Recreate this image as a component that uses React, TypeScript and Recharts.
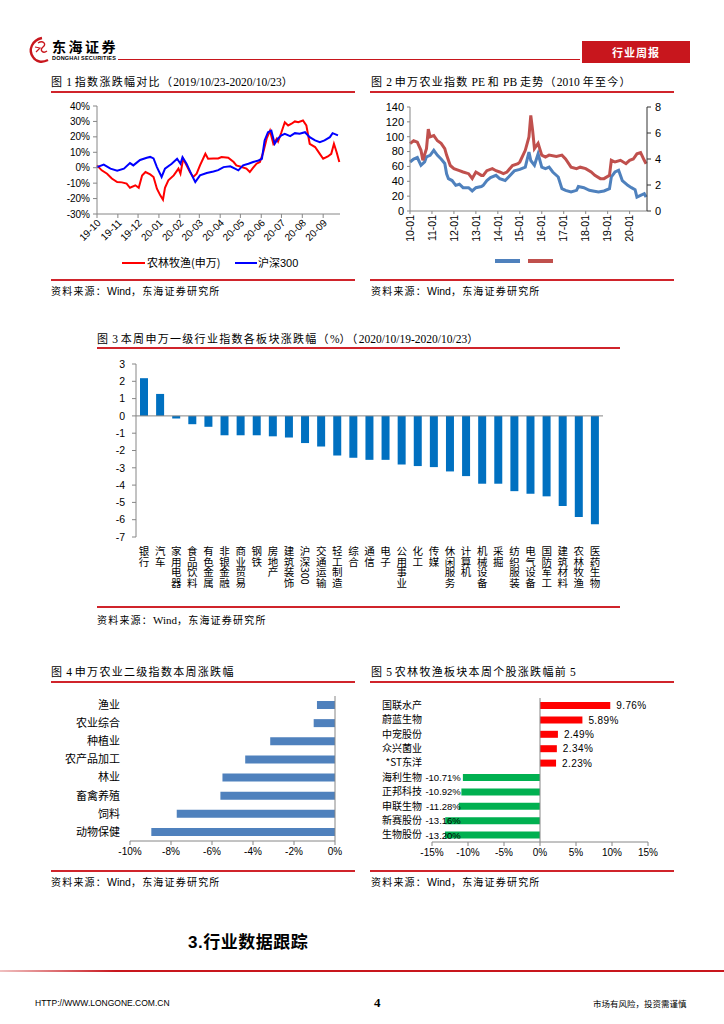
import React from 'react';
import { LineChart, Line, XAxis, YAxis, BarChart, Bar, Cell, ReferenceLine, LabelList } from 'recharts';

// ---------------- DATA ----------------
// Figure 1: cumulative change (%) since 2019-10-23, x = days since start
const fig1MonthLabels = ['19-10', '19-11', '19-12', '20-01', '20-02', '20-03', '20-04', '20-05', '20-06', '20-07', '20-08', '20-09'];
const fig1MonthDays = [0, 31, 61, 92, 123, 152, 183, 213, 244, 274, 305, 336];
const fig1AgriDays = [0, 7, 15, 22, 30, 37, 44, 49, 57, 62, 67, 72, 79, 84, 89, 94, 98, 101, 106, 114, 121, 124, 128, 133, 138, 143, 148, 153, 161, 165, 173, 180, 185, 195, 203, 207, 215, 222, 227, 232, 237, 242, 247, 252, 257, 262, 267, 269, 274, 279, 284, 289, 294, 299, 306, 311, 316, 324, 331, 336, 343, 348, 352, 356, 360];
const fig1AgriValues = [1.5, -1.7, -3.9, -7, -9.3, -9.5, -10.3, -13, -11.4, -13, -5, -2.8, -4.3, -6, -13.6, -17.9, -20.7, -13, -8.2, -5, -0.6, -3.9, 5.8, 1.5, -2.8, -6, -3.9, 1.5, 9, 5.8, 6, 6, 6.9, 6.5, 3.7, 1.5, 0.5, -0.6, -2.8, 0, 2.6, 3.7, 10, 18.8, 24, 15.5, 18.8, 17, 23, 29.5, 27.4, 28.5, 30, 29.5, 30.6, 27.4, 15.5, 13.4, 9, 5.8, 7.3, 9, 15.5, 10, 3.7];
const fig1HsDays = [0, 10, 20, 30, 40, 49, 54, 64, 74, 79, 84, 89, 96, 101, 111, 119, 124, 127, 133, 141, 146, 153, 163, 173, 180, 188, 198, 205, 210, 217, 225, 232, 240, 245, 249, 254, 259, 264, 269, 274, 279, 287, 294, 301, 309, 316, 324, 331, 338, 346, 350, 358];
const fig1HsValues = [0.4, 2, -0.6, -2, -0.6, 3, 1.5, 5, 6.5, 7, 6, 0.4, -6, -0.6, 2.6, 5.8, 2.6, 6.9, 2.6, -5, -9.3, -5, -3.4, -2.4, -1.6, 0.4, 0.9, -0.6, -1.7, 1.5, 2.6, 3.7, 4.7, 5.8, 17.7, 23, 24, 15.5, 19, 21, 22, 20.5, 22.4, 22, 23, 19.8, 17.7, 16.6, 17.7, 19.8, 22.4, 21];
const fig1YTicks = [-30, -20, -10, 0, 10, 20, 30, 40];

// Figure 2: PE (left axis) and PB (right axis), x = months since 2010-01
const fig2YearLabels = ['10-01', '11-01', '12-01', '13-01', '14-01', '15-01', '16-01', '17-01', '18-01', '19-01', '20-01'];
const fig2YearMonths = [0, 12, 24, 36, 48, 60, 72, 84, 96, 108, 120];
const fig2PeMonths = [0, 2, 4, 6, 8, 9, 11, 13, 15, 17, 19, 20, 21, 23, 25, 27, 29, 32, 34, 36, 39, 40, 42, 44, 47, 49, 52, 54, 57, 60, 63, 65, 66, 68, 70, 72, 74, 76, 78, 81, 83, 85, 88, 91, 92, 95, 98, 100, 103, 106, 109, 110, 112, 114, 116, 119, 121, 123, 124, 126, 128, 129];
const fig2PeValues = [66, 70, 72, 61.5, 66, 73, 75, 81.7, 75, 70, 64, 50, 43.5, 41, 34.5, 36, 31.4, 31.4, 27, 31.4, 33, 34.5, 41, 45, 48, 43.5, 41, 46, 54, 56, 59, 79.4, 68, 61.5, 77, 59, 57, 59, 52.5, 45.8, 30, 27.8, 25.6, 27.8, 33, 31.4, 27.8, 27, 25.6, 27, 30, 45.8, 52.5, 54.7, 41, 34.5, 31.4, 28.7, 18.8, 21, 23.3, 18.8];
const fig2PbMonths = [0, 2, 4, 6, 7, 9, 10, 11, 13, 15, 17, 19, 20, 22, 24, 27, 29, 32, 34, 36, 39, 40, 42, 45, 47, 49, 51, 53, 56, 59, 60, 63, 65, 66, 67, 68, 70, 72, 74, 76, 80, 83, 85, 88, 91, 93, 96, 99, 101, 104, 106, 109, 110, 112, 115, 118, 120, 122, 124, 126, 128, 129];
const fig2PbValues = [5.18, 5.4, 5.3, 4.67, 3.9, 4.8, 6.3, 5.7, 5.8, 5.4, 5.2, 4.8, 4.3, 3.5, 3.26, 3.1, 3.0, 2.87, 2.5, 3.0, 2.74, 2.74, 3.1, 3.26, 3.1, 3.0, 2.87, 3.0, 3.5, 3.64, 3.77, 4.67, 5.7, 7.36, 6.2, 4.8, 5.2, 4.3, 4.15, 4.3, 4.2, 4.3, 4.0, 3.37, 3.26, 3.37, 3.26, 3.0, 2.74, 2.49, 2.49, 2.74, 3.9, 3.77, 3.9, 3.64, 3.9, 4.0, 4.4, 4.5, 3.9, 3.64];
const fig2LeftTicks = [0, 20, 40, 60, 80, 100, 120, 140];
const fig2RightTicks = [0, 2, 4, 6, 8];

// Figure 3: weekly change (%) of SW level-1 industries
const fig3Categories = ['银行', '汽车', '家用电器', '食品饮料', '有色金属', '非银金融', '商业贸易', '钢铁', '房地产', '建筑装饰', '沪深300', '交通运输', '轻工制造', '综合', '通信', '电子', '公用事业', '化工', '传媒', '休闲服务', '计算机', '机械设备', '采掘', '纺织服装', '电气设备', '国防军工', '建筑材料', '农林牧渔', '医药生物'];
const fig3Values = [2.18, 1.27, -0.15, -0.48, -0.63, -1.12, -1.12, -1.12, -1.18, -1.25, -1.57, -1.77, -2.29, -2.42, -2.54, -2.54, -2.81, -2.9, -2.96, -3.21, -3.48, -3.92, -3.92, -4.35, -4.5, -4.65, -5.21, -5.85, -6.27];
const fig3YTicks = [-7, -6, -5, -4, -3, -2, -1, 0, 1, 2, 3];

// Figure 4: SW agriculture level-2 indices weekly change (%)
const fig4Categories = ['渔业', '农业综合', '种植业', '农产品加工', '林业', '畜禽养殖', '饲料', '动物保健'];
const fig4Values = [-0.88, -1.04, -3.16, -4.38, -5.49, -5.59, -7.72, -8.96];
const fig4XTicks = [-10, -8, -6, -4, -2, 0];

// Figure 5: top 5 gainers / losers (%)
const fig5Stocks = ['国联水产', '蔚蓝生物', '中宠股份', '众兴菌业', '*ST东洋', '海利生物', '正邦科技', '申联生物', '新赛股份', '生物股份'];
const fig5Values = [9.76, 5.89, 2.49, 2.34, 2.23, -10.71, -10.92, -11.28, -13.16, -13.2];
const fig5XTicks = [-15, -10, -5, 0, 5, 10, 15];

// ---------------- BUILD TABLES ----------------
function merge(xa: number[], ya: number[], ka: string, xb: number[], yb: number[], kb: string) {
  const m = new Map<number, any>();
  xa.forEach((x, i) => { const r = m.get(x) || { x }; r[ka] = ya[i]; m.set(x, r); });
  xb.forEach((x, i) => { const r = m.get(x) || { x }; r[kb] = yb[i]; m.set(x, r); });
  return Array.from(m.values()).sort((a, b) => a.x - b.x);
}
const fig1Data = merge(fig1AgriDays, fig1AgriValues, 'agri', fig1HsDays, fig1HsValues, 'hs');
const fig2Data = merge(fig2PeMonths, fig2PeValues, 'pe', fig2PbMonths, fig2PbValues, 'pb');
const fig3Data = fig3Categories.map((name, i) => ({ name, v: fig3Values[i] }));
const fig4Data = fig4Categories.map((name, i) => ({ name, v: fig4Values[i] }));
const fig5Data = fig5Stocks.map((name, i) => ({ name, v: fig5Values[i] }));

// ---------------- STYLES ----------------
const CJK = '"Noto Sans CJK SC", sans-serif';
const SANS = '"Liberation Sans", Arial, "Noto Sans CJK SC", sans-serif';
const SERIF = '"Liberation Serif", "Times New Roman", serif';
const RULE = '#D0242B';
const AXIS = '#868686';

const CJK_RE = /[\u3000-\u303f\u4e00-\u9fff\uff00-\uffef]/;
function Mixed({ text, cjkSpacing = 1.3, latinFamily = SERIF, latinSize }: any) {
  const parts = text.match(/[\u3000-\u303f\u4e00-\u9fff\uff00-\uffef]+|[^\u3000-\u303f\u4e00-\u9fff\uff00-\uffef]+/g) || [];
  return (
    <>
      {parts.map((p: string, i: number) =>
        CJK_RE.test(p) ? (
          <span key={i} style={{ fontFamily: CJK, letterSpacing: cjkSpacing }}>{p}</span>
        ) : (
          <span key={i} style={{ fontFamily: latinFamily, fontSize: latinSize }}>{p}</span>
        )
      )}
    </>
  );
}

const Rule = ({ left, top, width, h = 2 }: any) => (
  <div style={{ position: 'absolute', left, top, width, height: h, background: RULE }} />
);

const Caption = ({ left, top, text }: any) => (
  <div style={{ position: 'absolute', left, top, height: 15, lineHeight: '15px', fontSize: 11, whiteSpace: 'nowrap', color: '#000' }}>
    <Mixed text={text} cjkSpacing={1.3} latinFamily={SERIF} latinSize={11.5} />
  </div>
);

const Source = ({ left, top, serif }: any) => (
  <div style={{ position: 'absolute', left, top, height: 15, lineHeight: '15px', fontSize: 10, whiteSpace: 'nowrap', color: '#000' }}>
    <Mixed text="资料来源：Wind，东海证券研究所" cjkSpacing={1.2} latinFamily={serif ? SERIF : SANS} latinSize={serif ? 11 : 10.5} />
  </div>
);

// ---------------- TICKS ----------------
function Fig1XTick(props: any) {
  const { x, y, payload } = props;
  const i = fig1MonthDays.indexOf(payload.value);
  const ax = x + 2;
  const ay = y + 1;
  return (
    <text x={ax} y={ay} dy="0.35em" transform={`rotate(-45 ${ax} ${ay})`} textAnchor="end" fontSize={10} fontFamily={SANS} fill="#000">
      {i >= 0 ? fig1MonthLabels[i] : ''}
    </text>
  );
}

function Fig2XTick(props: any) {
  const { x, y, payload } = props;
  const i = fig2YearMonths.indexOf(payload.value);
  return (
    <text x={x} y={y} dy="0.35em" transform={`rotate(-90 ${x} ${y})`} textAnchor="end" fontSize={10.5} fontFamily={SANS} fill="#000">
      {i >= 0 ? fig2YearLabels[i] : ''}
    </text>
  );
}

function VerticalCatTick(props: any) {
  const { x, y, payload } = props;
  return (
    <text x={x} y={y} textAnchor="start" fontSize={10.5} fontFamily={CJK} fill="#000" style={{ writingMode: 'vertical-rl' } as any}>
      {payload.value}
    </text>
  );
}

function Fig5Label(props: any) {
  const { x, y, width, height, value } = props;
  const left = Math.min(x, x + width);
  const right = Math.max(x, x + width);
  const cy = y + height / 2;
  const txt = `${Number(value).toFixed(2)}%`;
  if (value >= 0) {
    return (
      <text x={right + 6} y={cy} dy="0.36em" fontSize={10} fontFamily={SANS} fill="#000" letterSpacing={0.4}>{txt}</text>
    );
  }
  const ppu = (right - left) / Math.abs(value);
  const endX = Math.max(left - 3, right - 11.0 * ppu);
  return (
    <text x={endX} y={cy} dy="0.36em" textAnchor="end" fontSize={9.5} fontFamily={SANS} fill="#000">{txt}</text>
  );
}

const tickStyle = { fontSize: 10, fontFamily: SANS, fill: '#000' };

// ---------------- APP ----------------
export default function App() {
  return (
    <div style={{ position: 'absolute', left: 0, top: 0, width: 724, height: 1024, background: '#fff', overflow: 'hidden', color: '#000' }}>
      {/* Header */}
      <svg style={{ position: 'absolute', left: 27, top: 35 }} width={24} height={30}>
        <path d="M15 3 C 5 5, 1 15, 6 22 C 9 27, 15 28, 21 25" stroke="#C8161D" strokeWidth={2.4} fill="none" />
        <path d="M11 8 C 16 5, 20 9, 16 12 C 12 15, 16 19, 20 16" stroke="#C8161D" strokeWidth={1.4} fill="none" />
        <path d="M8 12 L 13 13 L 9 17" stroke="#C8161D" strokeWidth={1.2} fill="none" />
      </svg>
      <div style={{ position: 'absolute', left: 52, top: 38, fontSize: 14, lineHeight: '17px', fontWeight: 'bold', letterSpacing: 2.5, fontFamily: CJK, whiteSpace: 'nowrap' }}>东海证券</div>
      <div style={{ position: 'absolute', left: 52, top: 55, fontSize: 5.5, lineHeight: '7px', fontWeight: 'bold', letterSpacing: 0.2, fontFamily: SANS, whiteSpace: 'nowrap' }}>DONGHAI SECURITIES</div>
      <div style={{ position: 'absolute', left: 118, top: 59, width: 462, height: 1, background: '#C8161D' }} />
      <div style={{ position: 'absolute', left: 582, top: 41, width: 108, height: 22, background: '#C8161D', color: '#fff', fontSize: 11, fontWeight: 'bold', fontFamily: CJK, lineHeight: '22px', textAlign: 'center', letterSpacing: 1 }}>行业周报</div>

      {/* Figure 1 */}
      <Caption left={51} top={74} text="图 1 指数涨跌幅对比（2019/10/23-2020/10/23）" />
      <Rule left={51} top={91} width={304} />
      <div style={{ position: 'absolute', left: 40, top: 95 }}>
        <LineChart width={310} height={159} data={fig1Data} margin={{ top: 11, right: 10, left: 7, bottom: 0 }}>
          <XAxis dataKey="x" type="number" domain={[0, 361]} ticks={fig1MonthDays} interval={0} height={40}
            axisLine={{ stroke: AXIS }} tickLine={{ stroke: AXIS }} tickSize={4} tickMargin={2} tick={<Fig1XTick />} />
          <YAxis type="number" domain={[-30, 40]} ticks={fig1YTicks} interval={0} width={50} tickFormatter={(v: number) => `${v}%`}
            axisLine={{ stroke: AXIS }} tickLine={{ stroke: AXIS }} tickSize={4} tickMargin={3} tick={tickStyle} />
          <Line type="linear" dataKey="agri" stroke="#FF0000" strokeWidth={2} dot={false} connectNulls isAnimationActive={false} />
          <Line type="linear" dataKey="hs" stroke="#0000FF" strokeWidth={2} dot={false} connectNulls isAnimationActive={false} />
        </LineChart>
      </div>
      <div style={{ position: 'absolute', left: 122, top: 262, width: 23, height: 2, background: '#FF0000' }} />
      <div style={{ position: 'absolute', left: 147, top: 255, fontSize: 11, lineHeight: '15px', fontFamily: CJK, whiteSpace: 'nowrap' }}>农林牧渔(申万)</div>
      <div style={{ position: 'absolute', left: 235, top: 262, width: 22, height: 2, background: '#0000FF' }} />
      <div style={{ position: 'absolute', left: 258, top: 255, fontSize: 11, lineHeight: '15px', fontFamily: CJK, whiteSpace: 'nowrap' }}>沪深<span style={{ fontFamily: SANS }}>300</span></div>
      <Rule left={51} top={279} width={304} />
      <Source left={51} top={283} />

      {/* Figure 2 */}
      <Caption left={371} top={74} text="图 2 申万农业指数 PE 和 PB 走势（2010 年至今）" />
      <Rule left={370} top={91} width={304} />
      <div style={{ position: 'absolute', left: 360, top: 96 }}>
        <LineChart width={330} height={155} data={fig2Data} margin={{ top: 11, right: 8, left: 0, bottom: 0 }}>
          <XAxis dataKey="x" type="number" domain={[0, 129.5]} ticks={fig2YearMonths} interval={0} height={40}
            axisLine={{ stroke: AXIS }} tickLine={{ stroke: AXIS }} tickSize={3} tickMargin={1} tick={<Fig2XTick />} />
          <YAxis yAxisId="l" orientation="left" type="number" domain={[0, 140]} ticks={fig2LeftTicks} interval={0} width={50}
            axisLine={{ stroke: AXIS }} tickLine={{ stroke: AXIS }} tickSize={3} tickMargin={3} tick={{ ...tickStyle, fontSize: 11 }} />
          <YAxis yAxisId="r" orientation="right" type="number" domain={[0, 8]} ticks={fig2RightTicks} interval={0} width={35}
            axisLine={{ stroke: '#333' }} tickLine={{ stroke: '#333' }} tickSize={4} tickMargin={4} tick={{ ...tickStyle, fontSize: 11 }} />
          <Line yAxisId="l" type="linear" dataKey="pe" stroke="#4F81BD" strokeWidth={3} dot={false} connectNulls isAnimationActive={false} />
          <Line yAxisId="r" type="linear" dataKey="pb" stroke="#C0504D" strokeWidth={3} dot={false} connectNulls isAnimationActive={false} />
        </LineChart>
      </div>
      <div style={{ position: 'absolute', left: 495, top: 259, width: 25, height: 4, background: '#4F81BD' }} />
      <div style={{ position: 'absolute', left: 528, top: 259, width: 25, height: 4, background: '#C0504D' }} />
      <Rule left={370} top={279} width={304} />
      <Source left={371} top={283} />

      {/* Figure 3 */}
      <Caption left={97} top={331} text="图 3 本周申万一级行业指数各板块涨跌幅（%）（2020/10/19-2020/10/23）" />
      <Rule left={97} top={347} width={523} />
      <div style={{ position: 'absolute', left: 90, top: 355 }}>
        <BarChart width={530} height={252} data={fig3Data} margin={{ top: 9, right: 17, left: 0, bottom: 0 }}>
          <XAxis dataKey="name" type="category" interval={0} height={70} axisLine={false} tickLine={false}
            tickSize={0} tickMargin={9} tick={<VerticalCatTick />} />
          <YAxis type="number" domain={[-7, 3]} ticks={fig3YTicks} width={46} interval={0}
            axisLine={{ stroke: AXIS }} tickLine={{ stroke: AXIS }} tickSize={4} tickMargin={7} tick={{ ...tickStyle, fontSize: 10.5 }} />
          <ReferenceLine y={0} stroke={AXIS} />
          <Bar dataKey="v" fill="#0070C0" barSize={8} isAnimationActive={false} />
        </BarChart>
      </div>
      <Rule left={97} top={606} width={523} />
      <Source left={97} top={612} serif />

      {/* Figure 4 */}
      <Caption left={51} top={664} text="图 4 申万农业二级指数本周涨跌幅" />
      <Rule left={51} top={681} width={304} />
      <div style={{ position: 'absolute', left: 40, top: 686 }}>
        <BarChart width={310} height={180} data={fig4Data} layout="vertical" margin={{ top: 10, right: 15, left: 0, bottom: 0 }}>
          <XAxis type="number" domain={[-10, 0]} ticks={fig4XTicks} interval={0} height={25} tickFormatter={(v: number) => `${v}%`}
            axisLine={{ stroke: AXIS }} tickLine={{ stroke: AXIS }} tickSize={4} tickMargin={3} tick={tickStyle} />
          <YAxis type="category" dataKey="name" width={90} interval={0} axisLine={false} tickLine={false} tickSize={0} tickMargin={10}
            tick={{ fontSize: 11, fontFamily: CJK, fill: '#000' }} />
          <ReferenceLine x={0} stroke={AXIS} />
          <Bar dataKey="v" fill="#4F81BD" barSize={8} isAnimationActive={false} />
        </BarChart>
      </div>
      <Rule left={51} top={870} width={304} />
      <Source left={51} top={874} />

      {/* Figure 5 */}
      <Caption left={371} top={664} text="图 5 农林牧渔板块本周个股涨跌幅前 5" />
      <Rule left={370} top={681} width={304} />
      <div style={{ position: 'absolute', left: 360, top: 688 }}>
        <BarChart width={330} height={179} data={fig5Data} layout="vertical" margin={{ top: 10, right: 42, left: 0, bottom: 0 }}>
          <XAxis type="number" domain={[-15, 15]} ticks={fig5XTicks} interval={0} height={25} tickFormatter={(v: number) => `${v}%`}
            axisLine={{ stroke: AXIS }} tickLine={{ stroke: AXIS }} tickSize={4} tickMargin={3} tick={tickStyle} />
          <YAxis type="category" dataKey="name" width={72} interval={0} axisLine={false} tickLine={false} tickSize={0} tickMargin={10}
            tick={{ fontSize: 10, fontFamily: CJK, fill: '#000' }} />
          <ReferenceLine x={0} stroke={AXIS} />
          <Bar dataKey="v" barSize={7} isAnimationActive={false}>
            {fig5Data.map((d, i) => (
              <Cell key={i} fill={d.v >= 0 ? '#FF0000' : '#00B050'} />
            ))}
            <LabelList dataKey="v" content={<Fig5Label />} />
          </Bar>
        </BarChart>
      </div>
      <Rule left={370} top={870} width={304} />
      <Source left={371} top={874} />

      {/* Footer */}
      <div style={{ position: 'absolute', left: 188, top: 931, fontSize: 17, lineHeight: '20px', fontWeight: 'bold', fontFamily: CJK, whiteSpace: 'nowrap', letterSpacing: 0.5 }}>
        <span style={{ fontFamily: SANS }}>3.</span>行业数据跟踪
      </div>
      <div style={{ position: 'absolute', left: 0, top: 970, width: 724, height: 2, background: 'linear-gradient(to right, #f0c0c0 0%, #C8161D 16%, #C8161D 100%)' }} />
      <div style={{ position: 'absolute', left: 35, top: 997, fontSize: 8.5, lineHeight: '12px', fontFamily: SANS, whiteSpace: 'nowrap' }}>HTTP://WWW.LONGONE.COM.CN</div>
      <div style={{ position: 'absolute', left: 374, top: 995, fontSize: 13, lineHeight: '15px', fontWeight: 'bold', fontFamily: SERIF }}>4</div>
      <div style={{ position: 'absolute', left: 593, top: 997, fontSize: 8.5, lineHeight: '12px', fontFamily: CJK, whiteSpace: 'nowrap' }}>市场有风险，投资需谨慎</div>
    </div>
  );
}
